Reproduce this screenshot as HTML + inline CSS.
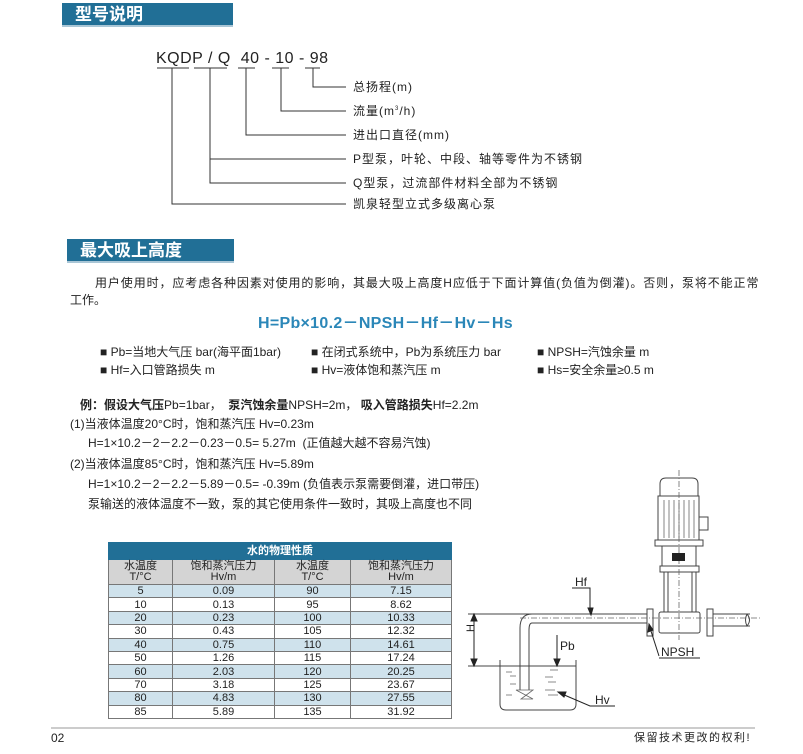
<!DOCTYPE html>
<html><head><meta charset="utf-8">
<style>
body{margin:0;width:803px;height:754px;background:#fff;position:relative;overflow:hidden;font-family:"Liberation Sans","Noto Sans CJK SC",sans-serif;color:#222;}
.a{position:absolute;white-space:nowrap;line-height:1;}
.hd{position:absolute;background:#216f96;color:#fff;font-size:17px;font-weight:bold;padding-left:13px;box-sizing:border-box;line-height:23px;border-bottom:2px solid #a9c6d6;}
.lb{font-size:12px;letter-spacing:1px;}
.p{font-size:12px;}
table{position:absolute;left:108px;top:542px;width:344px;border-collapse:collapse;font-size:11px;text-align:center;}
td{border:1px solid #777;padding:0;height:12.4px;line-height:12px;}
tr.b td{background:#cfe2ec;}
</style></head><body>
<div class="hd" style="left:62px;top:3px;width:171px;height:24px;">型号说明</div>
<div class="a" style="left:156px;top:51px;font-size:16px;letter-spacing:0.5px;">KQDP / Q&nbsp; 40 - 10 - 98</div>
<svg class="a" style="left:0;top:0" width="803" height="754">
<g stroke="#333" stroke-width="1" fill="none">
<path d="M157 68H189M194 68H227M238 68H255M272 68H289M305 68H320"/>
<path d="M313 68V87H346M281 68V111H346M246 68V135H346M210 68V183H346M210 159H346M172 68V204H346"/>
</g></svg>
<div class="a lb" style="left:353px;top:81px;">总扬程(m)</div>
<div class="a lb" style="left:353px;top:105px;">流量(m<sup style="font-size:6px">3</sup>/h)</div>
<div class="a lb" style="left:353px;top:129px;">进出口直径(mm)</div>
<div class="a lb" style="left:353px;top:153px;">P型泵，叶轮、中段、轴等零件为不锈钢</div>
<div class="a lb" style="left:353px;top:177px;">Q型泵，过流部件材料全部为不锈钢</div>
<div class="a lb" style="left:353px;top:198px;">凯泉轻型立式多级离心泵</div>

<div class="hd" style="left:67px;top:239px;width:167px;height:24px;">最大吸上高度</div>
<div class="a p" style="left:95px;top:277px;letter-spacing:0.9px;">用户使用时，应考虑各种因素对使用的影响，其最大吸上高度H应低于下面计算值(负值为倒灌)。否则，泵将不能正常</div>
<div class="a p" style="left:70px;top:294px;">工作。</div>
<div class="a" style="left:258px;top:316px;font-size:16px;font-weight:bold;color:#2b87b8;letter-spacing:0.3px;">H=Pb×10.2－NPSH－Hf－Hv－Hs</div>
<div class="a p" style="left:100px;top:346px;">■ Pb=当地大气压 bar(海平面1bar)</div>
<div class="a p" style="left:311px;top:346px;">■ 在闭式系统中，Pb为系统压力 bar</div>
<div class="a p" style="left:537px;top:346px;">■ NPSH=汽蚀余量 m</div>
<div class="a p" style="left:100px;top:364px;">■ Hf=入口管路损失 m</div>
<div class="a p" style="left:311px;top:364px;">■ Hv=液体饱和蒸汽压 m</div>
<div class="a p" style="left:537px;top:364px;">■ Hs=安全余量≥0.5 m</div>

<div class="a p" style="left:80px;top:399px;"><b>例：假设大气压</b>Pb=1bar，&nbsp; <b>泵汽蚀余量</b>NPSH=2m，&nbsp;<b>吸入管路损失</b>Hf=2.2m</div>
<div class="a p" style="left:70px;top:418px;">(1)当液体温度20°C时，饱和蒸汽压 Hv=0.23m</div>
<div class="a p" style="left:88px;top:437px;">H=1×10.2－2－2.2－0.23－0.5= 5.27m&nbsp; (正值越大越不容易汽蚀)</div>
<div class="a p" style="left:70px;top:458px;">(2)当液体温度85°C时，饱和蒸汽压 Hv=5.89m</div>
<div class="a p" style="left:88px;top:478px;">H=1×10.2－2－2.2－5.89－0.5= -0.39m (负值表示泵需要倒灌，进口带压)</div>
<div class="a p" style="left:88px;top:498px;">泵输送的液体温度不一致，泵的其它使用条件一致时，其吸上高度也不同</div>

<table>
<tr><td colspan="4" style="background:#216f96;color:#fff;height:16px;font-weight:bold;border-color:#216f96;">水的物理性质</td></tr>
<tr style="background:#d4d4d4;"><td style="width:63px;height:24px;line-height:11px;">水温度<br>T/°C</td><td style="width:101px;line-height:11px;">饱和蒸汽压力<br>Hv/m</td><td style="width:75px;line-height:11px;">水温度<br>T/°C</td><td style="line-height:11px;">饱和蒸汽压力<br>Hv/m</td></tr>
<tr class="b"><td>5</td><td>0.09</td><td>90</td><td>7.15</td></tr>
<tr><td>10</td><td>0.13</td><td>95</td><td>8.62</td></tr>
<tr class="b"><td>20</td><td>0.23</td><td>100</td><td>10.33</td></tr>
<tr><td>30</td><td>0.43</td><td>105</td><td>12.32</td></tr>
<tr class="b"><td>40</td><td>0.75</td><td>110</td><td>14.61</td></tr>
<tr><td>50</td><td>1.26</td><td>115</td><td>17.24</td></tr>
<tr class="b"><td>60</td><td>2.03</td><td>120</td><td>20.25</td></tr>
<tr><td>70</td><td>3.18</td><td>125</td><td>23.67</td></tr>
<tr class="b"><td>80</td><td>4.83</td><td>130</td><td>27.55</td></tr>
<tr><td>85</td><td>5.89</td><td>135</td><td>31.92</td></tr>
</table>

<svg class="a" style="left:0;top:0" width="803" height="754">
<g stroke="#444" stroke-width="1" fill="#fff">
<path d="M660 496V484Q660 478 666 478H692Q698 478 698 484V496Z"/>
<rect x="658" y="496" width="41" height="44"/>
<rect x="699" y="517" width="9" height="13"/>
<rect x="655" y="540" width="48" height="6"/>
<rect x="662" y="546" width="34" height="20"/>
<rect x="660" y="566" width="39" height="6"/>
<rect x="664" y="572" width="32" height="40"/>
<path d="M668 572V612M692 572V612" />
<rect x="659" y="612" width="41" height="21" rx="2"/>
<rect x="647" y="609" width="6" height="27"/>
<rect x="707" y="609" width="6" height="27"/>
<path d="M713 614H750M713 626H750" fill="none"/>
<path d="M747 614Q752 620 747 626Q744 620 747 614" fill="none"/>
<path d="M532 614H647M532 623H647" fill="none"/>
<path d="M532 614Q520 614 520 628V690M532 623Q529 623 529 630V690" fill="none"/>
<path d="M500 660V704Q500 710 506 710H570Q576 710 576 704V660" fill="none"/>
<path d="M468 614H532M468 666H576" fill="none"/>
</g>
<g stroke="#666" stroke-width="0.8" fill="none">
<path d="M664 500V538M669 500V538M674 500V538M679 500V538M684 500V538M689 500V538M694 500V538"/>
<path d="M679 470V640M520 618H760" stroke-dasharray="6 2 1 2"/>
<path d="M516 690H533L521 699H533Z"/>
<path d="M506 672h6M510 676h6M510 684h6M545 677h8M548 682h8M545 690h10M548 695h10M550 670h8M506 695h6"/>
</g>
<rect x="672" y="553" width="13" height="8" fill="#222"/>
<g stroke="#222" stroke-width="1" fill="#222">
<path d="M474 616V664" fill="none"/>
<path d="M474 614l-3 7h6z M474 666l-3 -7h6z"/>
<path d="M557 635V664" fill="none"/>
<path d="M557 666l-3 -7h6z"/>
<path d="M572 588H590L590 612" fill="none"/>
<path d="M591 615l-3 -7h5z"/>
<path d="M659 656L650 628" fill="none"/>
<path d="M649 624l-1 8 5 -2z"/>
<path d="M659 658H700M615 706H590L562 694" fill="none"/>
<path d="M558 692l8 0 -2 5z"/>
</g>
<text x="478" y="644" font-size="11" font-family="Liberation Sans" transform="rotate(-90 470 640)" fill="#222">H</text>
<text x="575" y="586" font-size="12" font-family="Liberation Sans" fill="#222">Hf</text>
<text x="560" y="650" font-size="12" font-family="Liberation Sans" fill="#222">Pb</text>
<text x="661" y="656" font-size="12" font-family="Liberation Sans" fill="#222">NPSH</text>
<text x="595" y="704" font-size="12" font-family="Liberation Sans" fill="#222">Hv</text>
<path d="M51 728H755" stroke="#999" stroke-width="1"/>
</svg>
<div class="a" style="left:51px;top:732px;font-size:12px;">02</div>
<div class="a" style="left:634px;top:733px;font-size:11px;letter-spacing:1.5px;">保留技术更改的权利!</div>
</body></html>
